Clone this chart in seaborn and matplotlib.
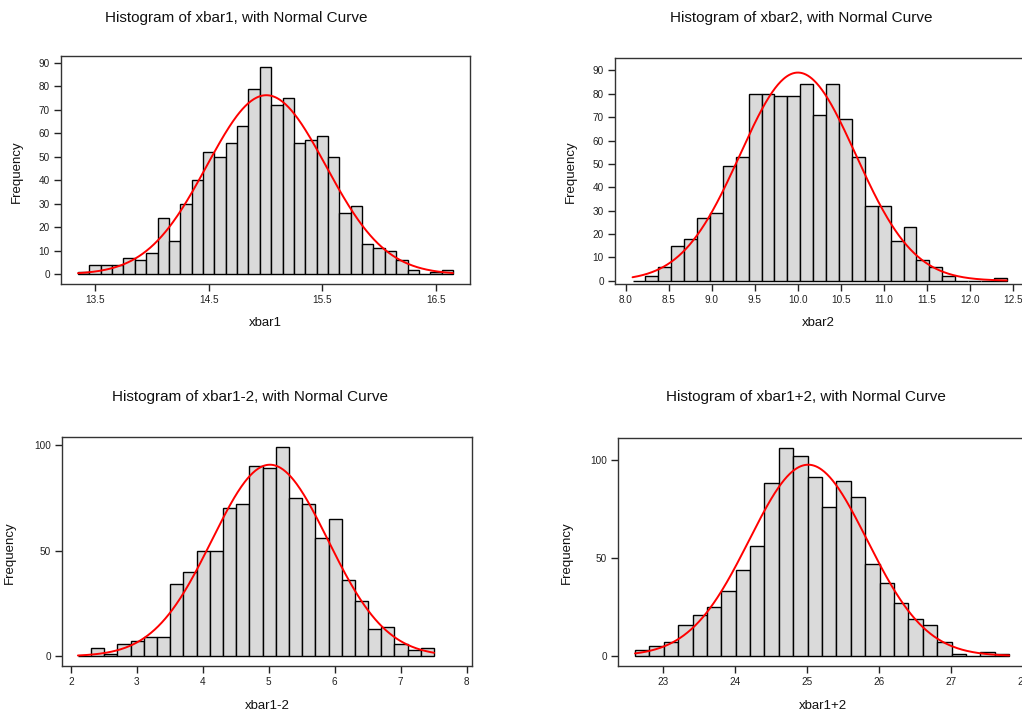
import numpy as np
import pandas as pd
import matplotlib
matplotlib.use("Agg")
import matplotlib.pyplot as plt
import seaborn as sns

# ---------------- data ----------------
xbar1_counts = [1, 4, 4, 4, 7, 6, 9, 24, 14, 30, 40, 52, 50, 56, 63, 79, 88,
                72, 75, 56, 57, 59, 50, 26, 29, 13, 11, 10, 6, 2, 0, 1, 2]
xbar1_bin_start, xbar1_bin_width = 13.35, 0.1

xbar2_counts = [0, 2, 6, 15, 18, 27, 29, 49, 53, 80, 80, 79, 79, 84, 71, 84,
                69, 53, 32, 32, 17, 23, 9, 6, 2, 0, 0, 0, 1]
xbar2_bin_start, xbar2_bin_width = 8.08, 0.15

xbar1m2_counts = [0, 4, 1, 6, 7, 9, 9, 34, 40, 50, 50, 70, 72, 90, 89, 99, 75,
                  72, 56, 65, 36, 26, 13, 14, 6, 3, 4]
xbar1m2_bin_start, xbar1m2_bin_width = 2.105, 0.2

xbar1p2_counts = [3, 5, 7, 16, 21, 25, 33, 44, 56, 88, 106, 102, 91, 76, 89, 81,
                  47, 37, 27, 19, 16, 7, 1, 0, 2, 1]
xbar1p2_bin_start, xbar1p2_bin_width = 22.61, 0.2

titles = ["Histogram of xbar1, with Normal Curve",
          "Histogram of xbar2, with Normal Curve",
          "Histogram of xbar1-2, with Normal Curve",
          "Histogram of xbar1+2, with Normal Curve"]
xlabels = ["xbar1", "xbar2", "xbar1-2", "xbar1+2"]
ylabel = "Frequency"

xticks1 = [13.5, 14.5, 15.5, 16.5]
xticks2 = [8.0, 8.5, 9.0, 9.5, 10.0, 10.5, 11.0, 11.5, 12.0, 12.5]
xticks3 = [2, 3, 4, 5, 6, 7, 8]
xticks4 = [23, 24, 25, 26, 27, 28]
yticks1 = [0, 10, 20, 30, 40, 50, 60, 70, 80, 90]
yticks2 = [0, 10, 20, 30, 40, 50, 60, 70, 80, 90]
yticks3 = [0, 50, 100]
yticks4 = [0, 50, 100]

# ---------------- style ----------------
sns.set_style("white")
plt.rcParams['font.family'] = ['Liberation Sans', 'DejaVu Sans']

W, H = 1022, 713
fig = plt.figure(figsize=(W / 100, H / 100), dpi=100)


def rect(left, top, right, bottom):
    return [left / W, 1 - bottom / H, (right - left) / W, (bottom - top) / H]


def panel(r, counts, start, width, xlim, ylim, xticks, yticks, xfmt):
    ax = fig.add_axes(r)
    counts = np.asarray(counts, dtype=float)
    nb = len(counts)
    edges = start + width * np.arange(nb + 1)
    centers = (edges[:-1] + edges[1:]) / 2
    df = pd.DataFrame({"x": centers, "n": counts})
    sns.histplot(data=df, x="x", weights="n", binwidth=width,
                 binrange=(float(edges[0]), float(edges[-1])), stat="count",
                 color="#dadada", edgecolor="black", linewidth=1.0, alpha=1,
                 ax=ax)
    mu = np.average(centers, weights=counts)
    sd = np.sqrt(np.average((centers - mu) ** 2, weights=counts))
    xs = np.linspace(edges[0], edges[-1], 400)
    ys = counts.sum() * width * np.exp(-0.5 * ((xs - mu) / sd) ** 2) / (sd * np.sqrt(2 * np.pi))
    sns.lineplot(x=xs, y=ys, color="#ff0000", linewidth=1.4, ax=ax)
    ax.set_xlim(*xlim)
    ax.set_ylim(*ylim)
    ax.set_xticks(xticks)
    ax.set_xticklabels([xfmt.format(t) for t in xticks])
    ax.set_yticks(yticks)
    ax.set_yticklabels([str(t) for t in yticks])
    ax.set_xlabel("")
    ax.set_ylabel("")
    ax.tick_params(axis="both", direction="out", length=5, width=1,
                   colors="#222222", labelsize=7.2, bottom=True, left=True, pad=3)
    for s in ax.spines.values():
        s.set_color("#333333")
        s.set_linewidth(1.0)
    return ax


panel(rect(61, 56, 470, 284), xbar1_counts, xbar1_bin_start, xbar1_bin_width,
      (13.2, 16.8), (-4.1, 92.85), xticks1, yticks1, "{:.1f}")
panel(rect(615, 58, 1030, 284), xbar2_counts, xbar2_bin_start, xbar2_bin_width,
      (7.876, 12.70), (-1.4, 95.3), xticks2, yticks2, "{:.1f}")
panel(rect(62, 437, 472, 666), xbar1m2_counts, xbar1m2_bin_start, xbar1m2_bin_width,
      (1.864, 8.08), (-4.6, 103.8), xticks3, yticks3, "{:d}")
panel(rect(618, 438, 1030, 666), xbar1p2_counts, xbar1p2_bin_start, xbar1p2_bin_width,
      (22.374, 28.1), (-5.1, 111.0), xticks4, yticks4, "{:d}")

# titles and axis labels
title_pos = [(236, 18), (801, 18), (250, 397), (806, 397)]
xlabel_pos = [(265, 323), (818, 323), (267, 706), (823, 706)]
ylabel_pos = [(17, 172), (571, 172), (10, 553), (567, 553)]
for t, (x, y) in zip(titles, title_pos):
    fig.text(x / W, 1 - y / H, t, ha="center", va="center", fontsize=11, color="#111111")
for t, (x, y) in zip(xlabels, xlabel_pos):
    fig.text(x / W, 1 - y / H, t, ha="center", va="center", fontsize=9.5, color="#111111")
for (x, y) in ylabel_pos:
    fig.text(x / W, 1 - y / H, ylabel, ha="center", va="center", rotation=90,
             fontsize=9.5, color="#111111")

fig.savefig("out.png", dpi=100)
